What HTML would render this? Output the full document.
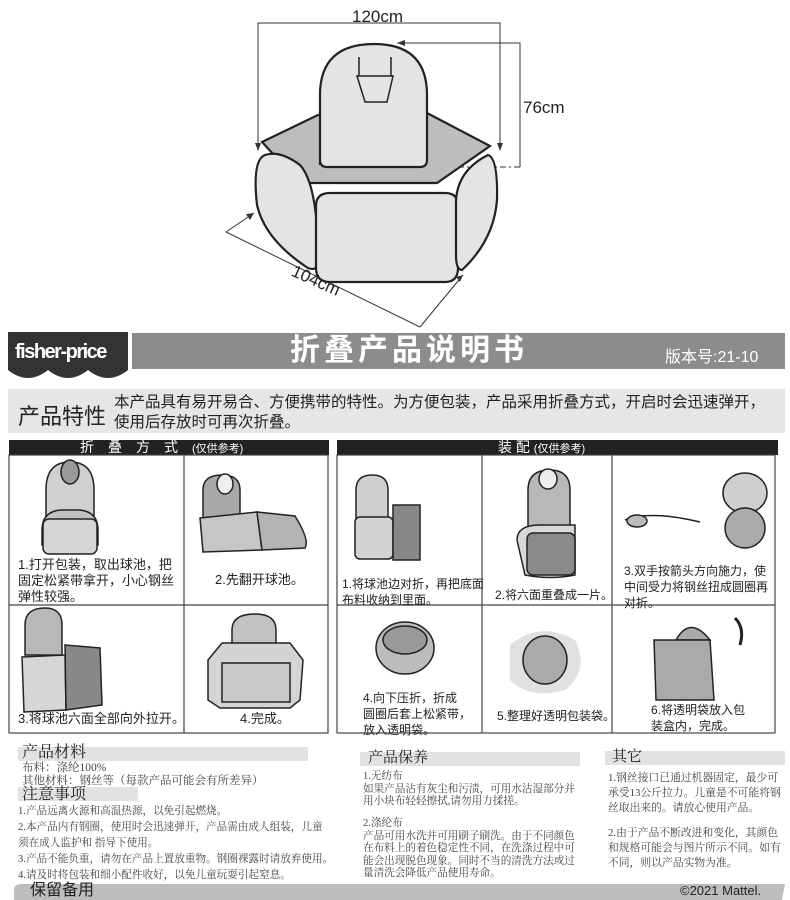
<!DOCTYPE html>
<html><head><meta charset="utf-8"><style>
body{margin:0;width:790px;height:900px;background:#fff;position:relative;overflow:hidden;font-family:"Liberation Sans","Noto Sans CJK SC",sans-serif;}
.a{position:absolute;white-space:nowrap;}
.ser{font-family:"Liberation Serif","Noto Serif CJK SC",serif;color:#444;}
.cap{position:absolute;font-size:13px;line-height:16px;color:#222;white-space:nowrap;}
.cr{font-size:12px;}
</style></head><body>

<svg class="a" style="left:0;top:0" width="790" height="900" viewBox="0 0 790 900">
<g fill="none" stroke="#333" stroke-width="1">
<polyline points="258,150 258,23 500,23 500,150"/>
<polyline points="397,43 520,43 520,167"/>
<line x1="520" y1="167" x2="422" y2="167" stroke-dasharray="6,3,2,3"/>
<line x1="226" y1="232" x2="420" y2="327"/>
<line x1="226" y1="232" x2="254" y2="213"/>
<line x1="420" y1="327" x2="463" y2="275"/>
</g>
<g fill="#333">
<polygon points="255,143 261,143 258,151"/>
<polygon points="497,143 503,143 500,151"/>
<polygon points="397,43 405,40 405,46"/>
<polygon points="254,213 246,214 250,220"/>
<polygon points="463,275 456,277 460,282"/>
</g>
<g stroke="#222" stroke-width="2.2">
<path d="M318,115 L262,142 L300,183 L437,183 L490,146 L427,113 Z" fill="#bdbdbd"/>
<path d="M320,165 L320,95 Q320,44 374,44 Q427,44 427,95 L427,160 Q427,167 420,167 L327,167 Q320,167 320,160 Z" fill="#e4e4e4"/>
<path d="M265,155 Q280,150 300,165 Q318,185 318,260 Q318,272 308,268 Q265,240 257,205 Q252,160 265,155 Z" fill="#e4e4e4"/>
<path d="M330,193 L445,193 Q458,193 458,206 L458,268 Q458,282 445,282 L330,282 Q316,282 316,268 L316,206 Q316,193 330,193 Z" fill="#e4e4e4"/>
<path d="M488,155 Q498,158 497,200 Q494,240 462,270 Q456,270 456,255 L456,200 Q458,170 488,155 Z" fill="#e4e4e4"/>
</g>
<g fill="none" stroke="#222" stroke-width="1.5">
<line x1="359" y1="57" x2="359" y2="76"/><line x1="391" y1="57" x2="391" y2="76"/>
<path d="M357,76 L393,76 L387,102 L365,102 Z" fill="#e4e4e4"/>
</g>
<text x="352" y="22" font-size="17" fill="#222" font-family="Liberation Sans">120cm</text>
<text x="523" y="113" font-size="17" fill="#222" font-family="Liberation Sans">76cm</text>
<text x="284" y="285" font-size="17" fill="#222" font-family="Liberation Sans" transform="rotate(24 310 295)">104cm</text>

<path d="M8,332 L128,332 L128,370 Q108,386 88,370 Q68,386 48,370 Q28,386 8,370 Z" fill="#333"/>
<rect x="132" y="333" width="653" height="36" fill="#8c8c8c"/>
<rect x="8" y="389" width="777" height="44" fill="#e6e6e6"/>

<rect x="9" y="440" width="320" height="15" fill="#222"/>
<rect x="337" y="440" width="441" height="15" fill="#222"/>
<g fill="none" stroke="#444" stroke-width="1.2">
<rect x="9" y="455" width="319" height="278"/>
<line x1="184" y1="455" x2="184" y2="733"/><line x1="9" y1="605" x2="328" y2="605"/>
<rect x="337" y="455" width="438" height="278"/>
<line x1="482" y1="455" x2="482" y2="733"/><line x1="612" y1="455" x2="612" y2="733"/><line x1="337" y1="605" x2="775" y2="605"/>
</g>

<g stroke="#222" stroke-width="1.5">
<path d="M46,530 L46,490 Q46,462 70,462 Q94,462 94,490 L94,530 Z" fill="#d0d0d0"/>
<ellipse cx="70" cy="472" rx="9" ry="12" fill="#999"/>
<path d="M42,530 Q42,512 60,510 L80,510 Q98,512 98,530 L98,545 Q70,556 42,545 Z" fill="#c0c0c0"/>
<rect x="43" y="519" width="54" height="35" rx="6" fill="#d6d6d6"/>
<path d="M203,525 L203,490 Q203,475 222,475 Q240,475 240,490 L240,525 Z" fill="#a8a8a8"/>
<ellipse cx="225" cy="484" rx="8" ry="10" fill="#eee"/>
<path d="M200,518 L257,512 L262,550 L203,552 Z" fill="#c6c6c6"/>
<path d="M257,512 L295,516 Q310,540 305,548 L262,550 Z" fill="#b3b3b3"/>
<path d="M25,655 L25,625 Q25,608 45,608 Q62,608 62,625 L62,655 Z" fill="#b8b8b8"/>
<path d="M22,657 L65,655 L66,710 L24,712 Z" fill="#d6d6d6"/>
<path d="M65,645 L100,648 L102,705 L66,710 Z" fill="#888"/>
<path d="M232,660 L232,630 Q232,614 255,614 Q276,614 276,630 L276,660 Z" fill="#c2c2c2"/>
<path d="M208,660 L222,643 L290,643 L303,660 L300,700 L290,708 L220,708 L208,700 Z" fill="#d4d4d4"/>
<path d="M222,663 L290,663 L290,702 L222,702 Z" fill="#c9c9c9"/>
<path d="M356,535 L356,490 Q356,475 372,475 Q388,475 388,490 L388,535 Z" fill="#cfcfcf"/>
<rect x="355" y="517" width="38" height="42" rx="5" fill="#d4d4d4"/>
<path d="M393,505 L420,505 L420,560 L393,560 Z" fill="#888"/>
<path d="M528,540 L528,490 Q528,470 550,470 Q570,470 570,490 L570,540 Z" fill="#b8b8b8"/>
<ellipse cx="548" cy="479" rx="9" ry="10" fill="#eee"/>
<path d="M517,540 Q517,525 540,525 L575,525 L575,575 Q550,580 525,575 Z" fill="#d8d8d8"/>
<rect x="527" y="533" width="48" height="42" rx="6" fill="#8a8a8a"/>
<path d="M625,520 Q650,510 700,522" fill="none"/>
<ellipse cx="637" cy="521" rx="10" ry="6" fill="#bbb"/>
<ellipse cx="745" cy="493" rx="22" ry="20" fill="#cfcfcf"/>
<ellipse cx="745" cy="528" rx="20" ry="20" fill="#aaa"/>
<ellipse cx="405" cy="648" rx="29" ry="26" fill="#bcbcbc"/>
<ellipse cx="405" cy="640" rx="22" ry="14" fill="#999"/>
<path d="M510,645 Q540,620 575,640 Q590,670 565,690 Q530,700 510,680 Z" fill="#e0e0e0" stroke="none"/>
<ellipse cx="545" cy="660" rx="22" ry="24" fill="#aaa"/>
<path d="M676,640 Q690,615 710,640 Z" fill="#aaa"/>
<path d="M654,640 L710,640 L714,700 L656,700 Z" fill="#aaa"/>
</g>
<path d="M735,618 Q745,628 740,645" stroke="#222" stroke-width="3" fill="none"/>

<rect x="18" y="747" width="290" height="14" fill="#e2e2e2"/>
<rect x="18" y="787" width="120" height="14" fill="#e2e2e2"/>
<rect x="360" y="752" width="220" height="14" fill="#e2e2e2"/>
<rect x="605" y="751" width="180" height="14" fill="#e2e2e2"/>
<path d="M14,900 L14,890 Q14,884 22,884 L785,884 L782,900 Z" fill="#bdbdbd"/>
</svg>

<div class="a" style="left:15px;top:341px;color:#fff;font-size:20px;font-weight:bold;letter-spacing:-1.5px">fisher-price</div>
<div class="a" style="left:290px;top:333px;color:#fff;font-size:30px;line-height:36px;font-weight:bold;letter-spacing:4px">折叠产品说明书</div>
<div class="a" style="left:665px;top:343px;color:#fff;font-size:16px">版本号:21-10</div>
<div class="a" style="left:18px;top:399px;font-size:22px;color:#222">产品特性</div>
<div class="a" style="left:114px;top:393px;font-size:15.5px;line-height:20px;color:#222">本产品具有易开易合、方便携带的特性。为方便包装，产品采用折叠方式，开启时会迅速弹开，<br>使用后存放时可再次折叠。</div>
<div class="a" style="left:80px;top:439px;color:#fff;font-size:14px;line-height:16px"><span style="letter-spacing:14px">折叠方式</span><span style="font-size:11px">(仅供参考)</span></div>
<div class="a" style="left:498px;top:439px;color:#fff;font-size:14px;line-height:16px">装 配 <span style="font-size:11px">(仅供参考)</span></div>

<div class="cap" style="left:18px;top:557px">1.打开包装，取出球池，把<br>固定松紧带拿开，小心钢丝<br>弹性较强。</div>
<div class="cap" style="left:215px;top:572px">2.先翻开球池。</div>
<div class="cap" style="left:18px;top:711px">3.将球池六面全部向外拉开。</div>
<div class="cap" style="left:240px;top:711px">4.完成。</div>
<div class="cap cr" style="left:342px;top:576px">1.将球池边对折，再把底面<br>布料收纳到里面。</div>
<div class="cap cr" style="left:495px;top:587px">2.将六面重叠成一片。</div>
<div class="cap cr" style="left:624px;top:563px">3.双手按箭头方向施力，使<br>中间受力将钢丝扭成圆圈再<br>对折。</div>
<div class="cap cr" style="left:363px;top:690px">4.向下压折，折成<br>圆圈后套上松紧带，<br>放入透明袋。</div>
<div class="cap cr" style="left:497px;top:708px">5.整理好透明包装袋。</div>
<div class="cap cr" style="left:651px;top:702px">6.将透明袋放入包<br>装盒内，完成。</div>

<div class="a ser" style="left:22px;top:744px;font-size:16px;line-height:18px;color:#222">产品材料</div>
<div class="a ser" style="left:22px;top:762px;font-size:11.5px;line-height:13px">布料：涤纶100%<br>其他材料：钢丝等（每款产品可能会有所差异）</div>
<div class="a ser" style="left:22px;top:786px;font-size:16px;line-height:18px;color:#222">注意事项</div>
<div class="a ser" style="left:18px;top:804px;font-size:10.6px;line-height:16px">1.产品远离火源和高温热源，以免引起燃烧。<br>2.本产品内有钢圈，使用时会迅速弹开，产品需由成人组装，儿童<br>须在成人监护和 指导下使用。<br>3.产品不能负重，请勿在产品上置放重物。钢圈裸露时请放弃使用。<br>4.请及时将包装和细小配件收好，以免儿童玩耍引起窒息。</div>
<div class="a" style="left:30px;top:882px;font-size:16px;line-height:18px;color:#222">保留备用</div>

<div class="a ser" style="left:368px;top:749px;font-size:15px;line-height:18px;color:#222">产品保养</div>
<div class="a ser" style="left:363px;top:771px;font-size:10.6px;line-height:12.5px">1.无纺布<br>如果产品沾有灰尘和污渍，可用水沾湿部分并<br>用小块布轻轻擦拭,请勿用力揉搓。</div>
<div class="a ser" style="left:363px;top:818px;font-size:10.6px;line-height:12.5px">2.涤纶布<br>产品可用水洗并可用刷子刷洗。由于不同颜色<br>在布料上的着色稳定性不同，在洗涤过程中可<br>能会出现脱色现象。同时不当的清洗方法或过<br>量清洗会降低产品使用寿命。</div>
<div class="a ser" style="left:612px;top:748px;font-size:15px;line-height:18px;color:#222">其它</div>
<div class="a ser" style="left:608px;top:771px;font-size:10.8px;line-height:15px">1.钢丝接口已通过机器固定，最少可<br>承受13公斤拉力。儿童是不可能将钢<br>丝取出来的。请放心使用产品。</div>
<div class="a ser" style="left:608px;top:826px;font-size:10.8px;line-height:15px">2.由于产品不断改进和变化，其颜色<br>和规格可能会与图片所示不同。如有<br>不同，则以产品实物为准。</div>
<div class="a" style="left:680px;top:883px;font-size:13px;line-height:16px;color:#222">©2021 Mattel.</div>
</body></html>
